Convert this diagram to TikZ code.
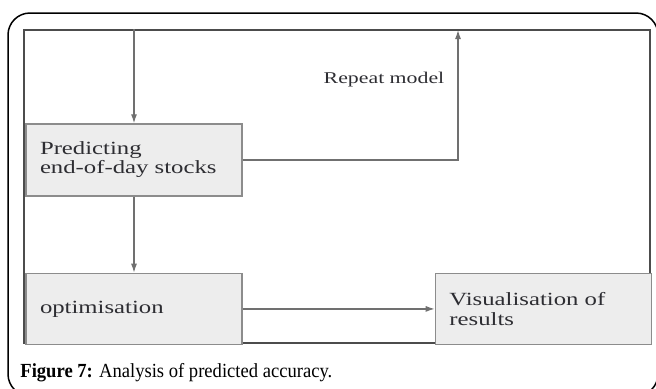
\documentclass[tikz,border=0pt]{standalone}
\usepackage{fontspec}
\setmainfont{Liberation Serif}
\newfontfamily\boxfont[FakeStretch=1.33]{Liberation Serif}
\newfontfamily\capfont[FakeStretch=0.93]{Liberation Serif}
\usepackage{xcolor}
\usetikzlibrary{arrows.meta,positioning}
\definecolor{boxfill}{RGB}{237, 237, 237}
\definecolor{boxline}{RGB}{140, 140, 140}
\definecolor{arrline}{RGB}{112, 112, 112}
\definecolor{textcol}{RGB}{45, 45, 50}

\begin{document}
\begin{tikzpicture}[x=0.5pt,y=-0.5pt,node distance=0.55cm,box/.style={draw=boxline,line width=0.7pt,fill=boxfill,align=left,text width=94pt,inner xsep=7pt,minimum width=108pt,minimum height=36pt,text=textcol,font=\boxfont\fontsize{9.3}{9.5}\selectfont},arr/.style={-{Latex[length=4.5pt,width=3pt]},draw=arrline,line width=0.6pt}]
\useasboundingbox (0,0) rectangle (656,388);
% outer panel and inner frame
\draw[line width=0.75pt,rounded corners=11pt] (8,13) rectangle (658,396);
\node[draw=black!70,line width=0.6pt,minimum width=313pt,minimum height=156.5pt,inner sep=0pt] (frame) at (337,186.5) {};
% steps
\node[box] (pred) at (134,160) {Predicting\\end-of-day stocks};
\node[box,below=38pt of pred,minimum height=35.5pt] (opt) {optimisation};
\node[box,right=96pt of opt,minimum height=35.5pt,font=\boxfont\fontsize{9.3}{10}\selectfont] (vis) {Visualisation of\\results};
\coordinate (rep) at (458,30);
\node[text=textcol,font=\boxfont\fontsize{8.2}{9}\selectfont] (replbl) at (384,80) {Repeat model};
\draw[arr] (pred.north |- frame.north) -- (pred.north); \draw[arr] (pred.east) -| (rep);
\draw[arr] (pred) -- (opt); \draw[arr] (opt) -- (vis);
\node[anchor=base west,inner sep=0pt,font=\capfont\fontsize{10}{12}\selectfont] (cap) at (20,377) {\textbf{Figure 7:} Analysis of predicted accuracy.};
\end{tikzpicture}
\end{document}
